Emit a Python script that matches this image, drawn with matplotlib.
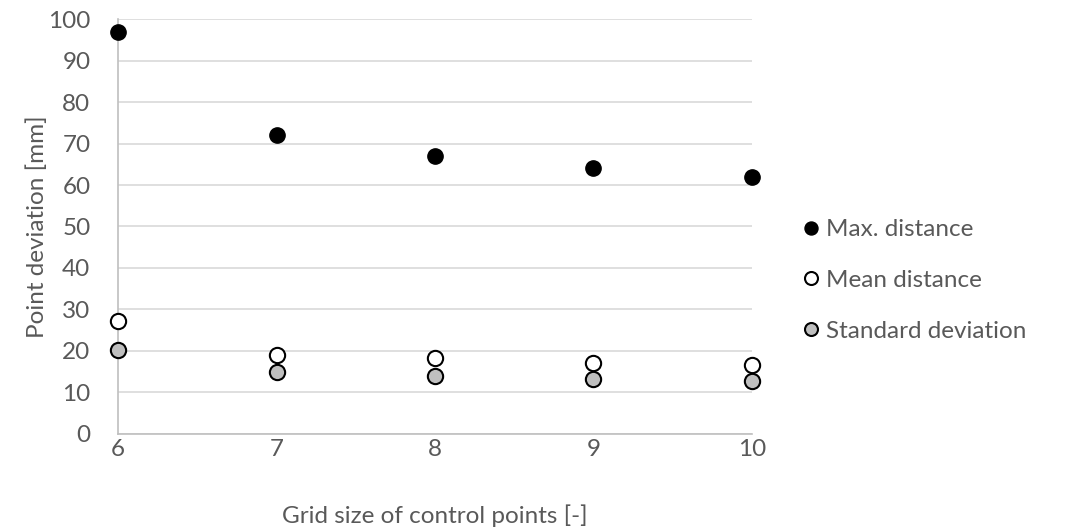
import matplotlib.pyplot as plt

grid_size = [6, 7, 8, 9, 10]
max_distance = [97, 72, 67, 64, 62]
mean_distance = [27.1, 19.0, 18.3, 17.0, 16.5]
std_deviation = [20.1, 14.8, 13.9, 13.3, 12.8]

plt.rcParams['font.family'] = ['Lato', 'DejaVu Sans']

fig = plt.figure(figsize=(10.65, 5.31), dpi=100)
ax = fig.add_axes([0.111, 0.183, 0.595, 0.781])

ax.plot(grid_size, max_distance, 'o', color='black', markersize=11,
        markeredgecolor='black', label='Max. distance', clip_on=False, zorder=3)
ax.plot(grid_size, mean_distance, 'o', color='white', markersize=11,
        markeredgecolor='black', markeredgewidth=1.5, label='Mean distance', clip_on=False, zorder=3)
ax.plot(grid_size, std_deviation, 'o', color='#bfbfbf', markersize=11,
        markeredgecolor='black', markeredgewidth=1.5, label='Standard deviation', clip_on=False, zorder=3)

ax.set_xlim(6, 10)
ax.set_ylim(0, 100)
ax.set_xticks(grid_size)
ax.set_yticks(range(0, 101, 10))
ax.grid(axis='y', color='#d9d9d9', linewidth=1.2)
ax.set_axisbelow(True)
for side in ['top', 'right']:
    ax.spines[side].set_visible(False)
for side in ['left', 'bottom']:
    ax.spines[side].set_color('#bfbfbf')
    ax.spines[side].set_linewidth(1.2)
ax.tick_params(length=0, labelsize=17.5, labelcolor='#595959')
ax.tick_params(axis='y', pad=20)
ax.tick_params(axis='x', pad=4)

ax.set_xlabel('Grid size of control points [-]', fontsize=17.5, color='#595959', labelpad=32)
ax.set_ylabel('Point deviation [mm]', fontsize=17.5, color='#595959', labelpad=0)

ax.legend(loc='center left', bbox_to_anchor=(1.04, 0.37), frameon=False, fontsize=17.5,
          labelcolor='#595959', handletextpad=0.1, labelspacing=1.22, markerscale=0.85,
          handlelength=1.0)

fig.savefig('out.png', dpi=100)
